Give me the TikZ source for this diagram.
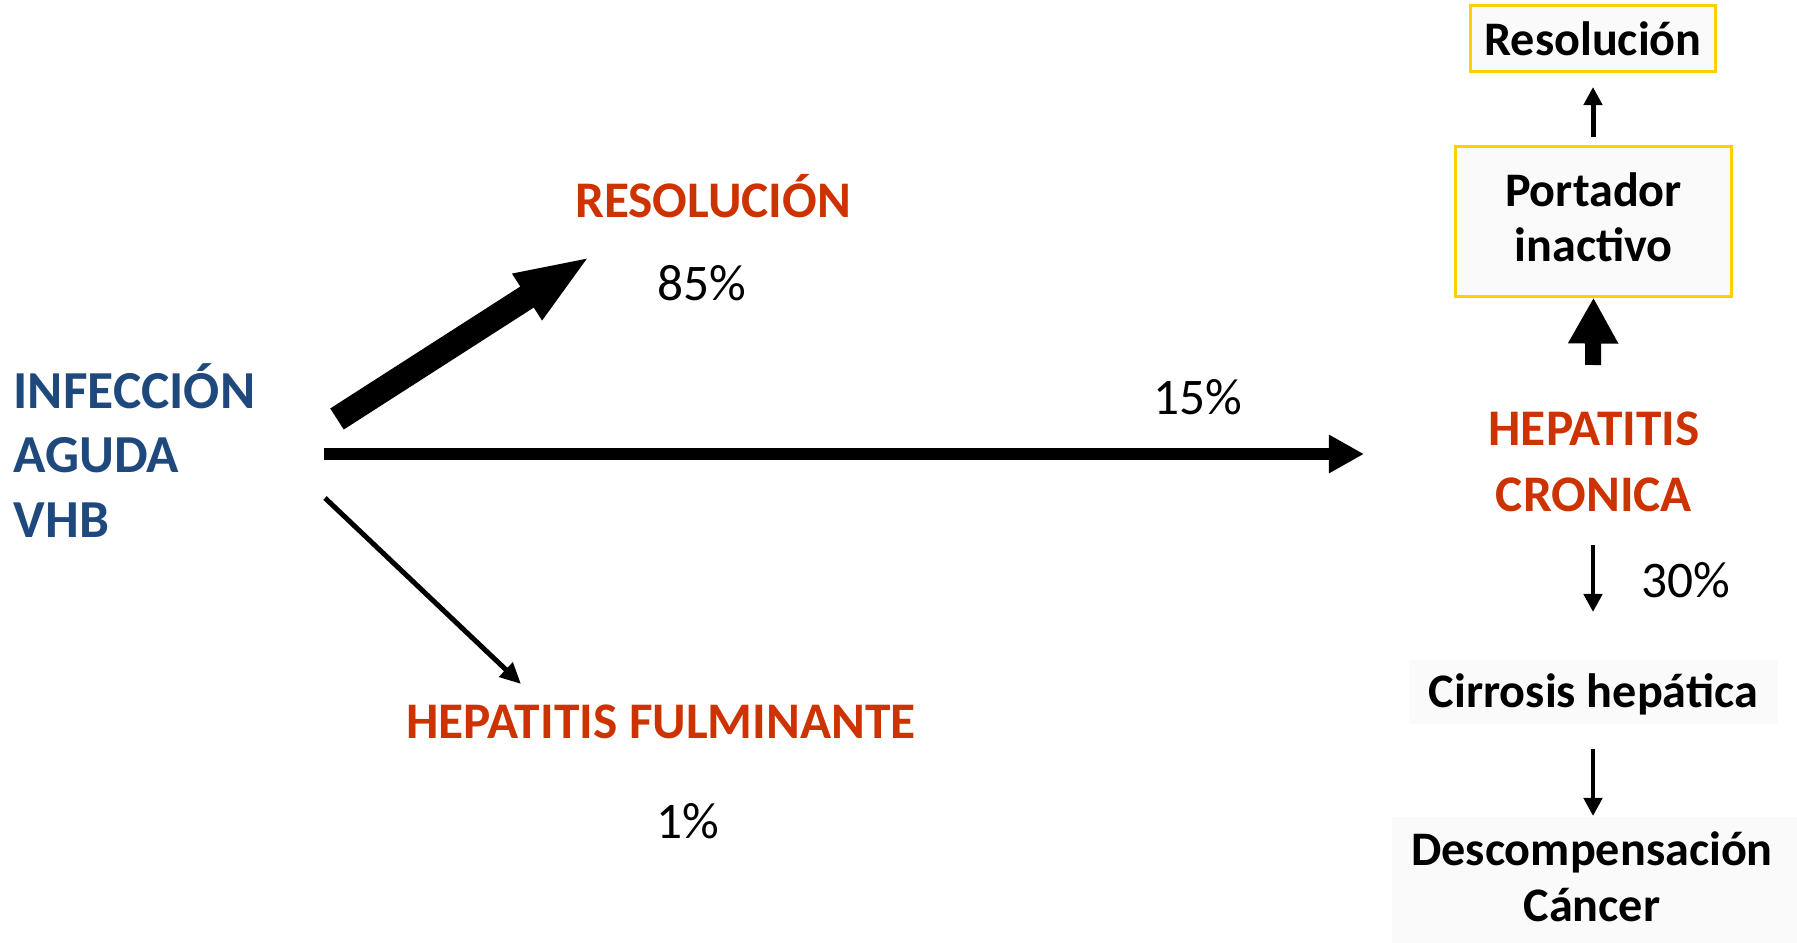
\documentclass[tikz,border=0pt]{standalone}
\usepackage{fontspec}
\setmainfont{Carlito}
\usepackage{tikz}
\usetikzlibrary{arrows.meta,positioning}

\definecolor{vhbblue}{RGB}{31,73,125}
\definecolor{hepred}{RGB}{204,51,0}
\definecolor{boxyellow}{RGB}{255,208,0}
\definecolor{boxgrey}{RGB}{250,250,250}

\begin{document}
\begin{tikzpicture}[x=0.01cm,y=-0.01cm,inner sep=0pt,
  title/.style={font=\fontsize{14.6}{18.4}\selectfont\bfseries,align=center},
  blue title/.style={title,font=\fontsize{15.2}{18.4}\selectfont\bfseries,text=vhbblue,align=left},
  red title/.style={title,text=hepred},
  pct/.style={font=\fontsize{14.6}{17}\selectfont},
  stage/.style={font=\fontsize{13.7}{15.8}\selectfont\bfseries,align=center},
  yellow box/.style={stage,draw=boxyellow,line width=0.03cm,fill=boxgrey},
  grey box/.style={stage,fill=boxgrey},
  fat arrow/.style={line width=0.25cm,-{Triangle[length=0.76cm,width=0.49cm]}},
  main arrow/.style={line width=0.11cm,-{Triangle[length=0.35cm,width=0.36cm]}},
  thin arrow/.style={line width=0.05cm,-{Triangle[length=0.21cm,width=0.19cm]}},
  thick up/.style={line width=0.16cm,-{Triangle[length=0.46cm,width=0.47cm]}},
  step arrow/.style={line width=0.045cm,-{Triangle[length=0.18cm,width=0.18cm]}}]

\useasboundingbox (0,0) rectangle (1797,943);

\node[blue title,anchor=west] (infec) at (13,450.5) {INFECCIÓN\\AGUDA\\VHB};
\node[red title,anchor=base] (res) at (713,218) {RESOLUCIÓN};
\node[pct,anchor=base] (p85) at (702,301) {85\%};
\node[pct,anchor=base] (p15) at (1198,415) {15\%};
\node[red title,anchor=base] (fulm) at (661,738) {HEPATITIS FULMINANTE};
\node[pct,anchor=base] (p1) at (688,838) {1\%};

\node[red title,font=\fontsize{14.6}{18.9}\selectfont\bfseries] (hc) at (1594,462) {HEPATITIS\\CRONICA};
\node[pct,anchor=base] (p30) at (1686,597) {30\%};
\node[yellow box,minimum width=2.44cm,minimum height=0.65cm] (resbox) at (1593,38.5) {Resolución};
\node[yellow box,minimum width=2.75cm,minimum height=1.49cm,text depth=2.6pt] (port) at (1593.5,221.5) {Portador\\inactivo};
\node[grey box,minimum width=3.69cm,minimum height=0.64cm,text depth=0.7pt] (cirr) at (1593.5,692) {Cirrosis hepática};
\fill[boxgrey] (1392,817) rectangle (1797,943);
\node[stage] (desc) at (1592,877) {Descompensación\\Cáncer};

% los extremos de las flechas no tocan los textos, por eso van como coordenadas
\coordinate (res-from) at (337,419);
\coordinate (res-to) at (591,256);
\coordinate (hc-from) at (324,454);
\coordinate (hc-to) at (1364,454);
\coordinate (fulm-from) at (325,498);
\coordinate (fulm-to) at (521,684);
\coordinate (port-from) at (1593,365);
\coordinate (resbox-from) at (1593,137);
\coordinate (resbox-to) at (1593,87);
\coordinate (cirr-from) at (1593,545);
\coordinate (cirr-to) at (1593,612);
\coordinate (desc-from) at (1593,749);
\coordinate (desc-to) at (1593,816);

\path
(res-from) edge [fat arrow] (res-to)
(hc-from) edge [main arrow] (hc-to)
(fulm-from) edge [thin arrow] (fulm-to)
(port-from) edge [thick up] (port.south)
(resbox-from) edge [step arrow, line width=0.05cm] (resbox-to)
(cirr-from) edge [step arrow] (cirr-to)
(desc-from) edge [step arrow] (desc-to);
\end{tikzpicture}
\end{document}
